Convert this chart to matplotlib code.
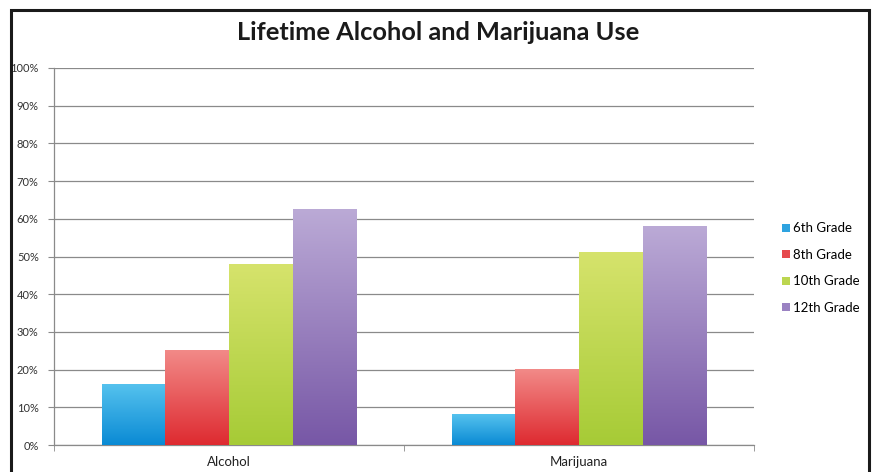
import numpy as np
import matplotlib
matplotlib.use("Agg")
import matplotlib.pyplot as plt
from matplotlib.colors import LinearSegmentedColormap
from matplotlib.patches import Patch, Rectangle

# ---- data ----
categories = ["Alcohol", "Marijuana"]
grades = ["6th Grade", "8th Grade", "10th Grade", "12th Grade"]
values = {
    "6th Grade": [0.16, 0.08],
    "8th Grade": [0.25, 0.20],
    "10th Grade": [0.48, 0.51],
    "12th Grade": [0.625, 0.58],
}
yticks = [0.0, 0.1, 0.2, 0.3, 0.4, 0.5, 0.6, 0.7, 0.8, 0.9, 1.0]
ytick_labels = ["0%", "10%", "20%", "30%", "40%", "50%", "60%", "70%", "80%", "90%", "100%"]

# (top colour, bottom colour, legend colour)
grade_colors = {
    "6th Grade": ("#55c2ee", "#0a8ad4", "#2ea3e0"),
    "8th Grade": ("#f28a88", "#de2a30", "#e6494d"),
    "10th Grade": ("#d6e36c", "#a6cb36", "#bcd650"),
    "12th Grade": ("#bbaad6", "#7757a6", "#9a82c2"),
}

plt.rcParams["font.family"] = ["Lato", "DejaVu Sans"]

fig = plt.figure(figsize=(8.72, 4.72), dpi=100)
ax = fig.add_axes([54 / 872, 1 - 445 / 472, 700 / 872, 377 / 472])

x = np.arange(len(categories))
bar_w = 0.182
grad = np.linspace(1, 0, 256).reshape(-1, 1)

# bars with a vertical gradient (light top, dark bottom)
for i, g in enumerate(grades):
    top, bot, _ = grade_colors[g]
    cmap = LinearSegmentedColormap.from_list(g, [bot, top])
    offs = (i - 1.5) * bar_w
    bars = ax.bar(x + offs, values[g], bar_w, color="none", edgecolor="none", zorder=3)
    for b in bars:
        bx, bw, bh = b.get_x(), b.get_width(), b.get_height()
        ax.imshow(grad, cmap=cmap, aspect="auto", extent=[bx, bx + bw, 0, bh],
                  origin="upper", zorder=3, interpolation="bilinear")

ax.set_xlim(-0.5, 1.5)
ax.set_ylim(0, 1.0)

ax.set_yticks(yticks)
ax.set_yticklabels(ytick_labels, fontsize=8, color="#333333")
ax.yaxis.grid(True, color="#8a8a8a", linewidth=0.9, zorder=0)
ax.set_axisbelow(True)
ax.tick_params(axis="y", direction="out", length=4, color="#8a8a8a", pad=7)

ax.set_xticks(x)
ax.set_xticklabels(categories, fontsize=9.5, color="#222222")
ax.tick_params(axis="x", length=0, pad=8)
ax.set_xticks([-0.5, 0.5, 1.5], minor=True)
ax.tick_params(axis="x", which="minor", direction="out", length=4, color="#8a8a8a")

for s in ["top", "right"]:
    ax.spines[s].set_visible(False)
for s in ["left", "bottom"]:
    ax.spines[s].set_color("#8a8a8a")
    ax.spines[s].set_linewidth(0.9)

fig.text(0.502, 1 - 33 / 472, "Lifetime Alcohol and Marijuana Use", ha="center", va="center",
         fontsize=18.3, fontweight="bold", color="#1a1a1a")

handles = [Patch(facecolor=grade_colors[g][2], edgecolor="none") for g in grades]
fig.legend(handles, grades, loc="upper left", bbox_to_anchor=(777 / 872, 1 - 217 / 472),
           frameon=False, fontsize=9.5, handlelength=0.55, handleheight=0.55,
           handletextpad=0.3, labelspacing=1.1, borderaxespad=0)

# outer frame (bottom edge runs off the image)
fig.add_artist(Rectangle((11 / 872, -0.1), (869 - 11) / 872, 1.1 - 10 / 472,
                         transform=fig.transFigure, fill=False,
                         edgecolor="#1a1a1a", linewidth=2.2))

fig.savefig("out.png", dpi=100)
